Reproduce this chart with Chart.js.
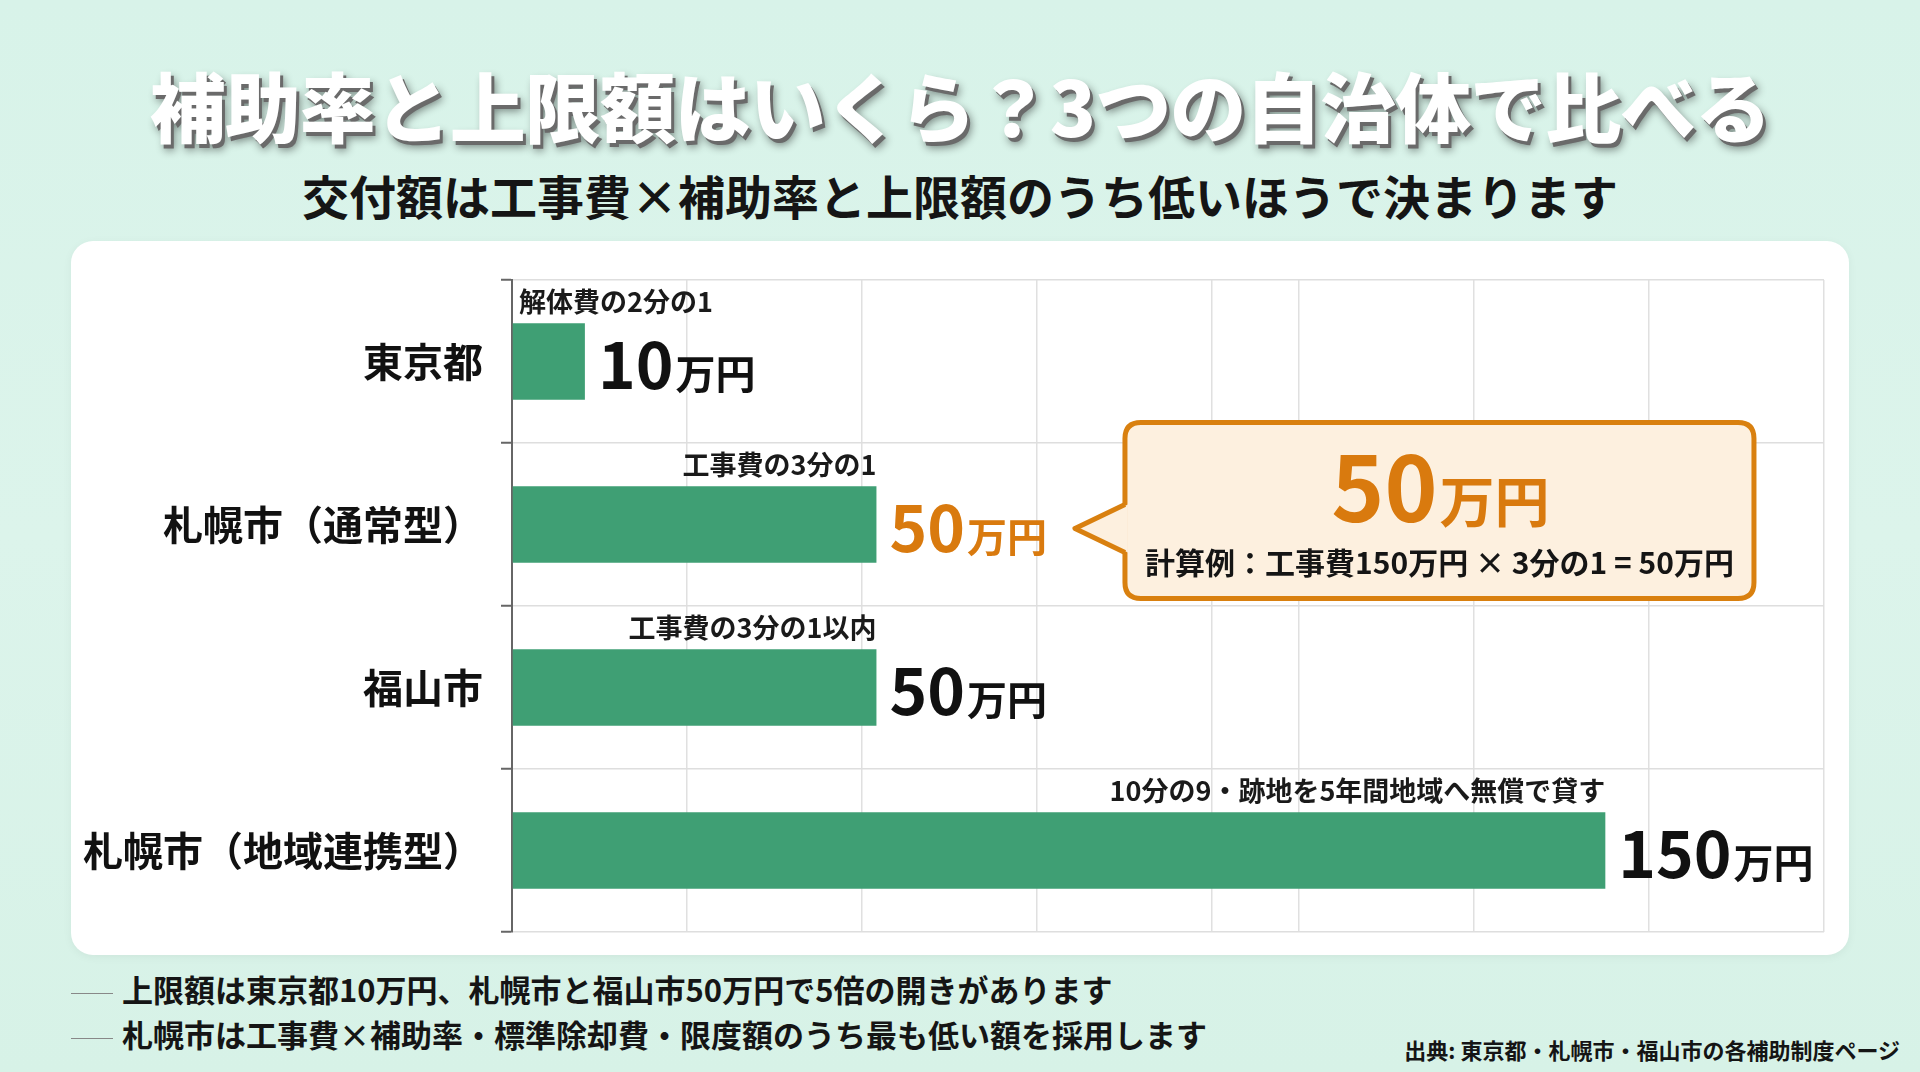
<!DOCTYPE html>
<html lang="ja">
<head>
  <meta charset="UTF-8">
  <title>補助率と上限額はいくら？3つの自治体で比べる</title>
  <script src="https://cdn.jsdelivr.net/npm/chart.js"></script>
  <style>
    html, body { margin: 0; padding: 0; }
    body {
      width: 1920px; height: 1072px; position: relative; overflow: hidden;
      background: linear-gradient(180deg, #d8f3e9 0%, #dcf4eb 50%, #d7f2e7 100%);
      font-family: "Noto Sans CJK JP", "Noto Sans", sans-serif;
      color: #111;
    }
    .title {
      position: absolute; left: 0; width: 1920px; top: 64px; height: 80px;
      text-align: center; font-size: 76px; line-height: 80px; font-weight: 900;
      color: #fff; letter-spacing: -1px;
      text-shadow: 3px 4px 0 #6a6a6a, 4px 6px 8px rgba(0,0,0,0.45);
    }
    .subtitle {
      position: absolute; left: 0; width: 1920px; top: 170px; height: 50px;
      text-align: center; font-size: 47px; line-height: 50px; font-weight: 700;
      color: #151515;
    }
    .card {
      position: absolute; left: 71px; top: 241px; width: 1778px; height: 714px;
      background: #fff; border-radius: 22px;
      box-shadow: 0 2px 10px rgba(0,0,0,0.05);
    }
    .card canvas { display: block; }
    .note {
      position: absolute; left: 71px; font-size: 31px; line-height: 36px; font-weight: 700;
      color: #151515; white-space: nowrap;
    }
    .note::before {
      content: ""; display: inline-block; width: 42px; height: 0;
      border-top: 1.5px solid #888; vertical-align: middle; margin-right: 9px;
    }
    .source {
      position: absolute; right: 20px; top: 1035px; font-size: 22px; line-height: 28px;
      font-weight: 700; color: #151515;
    }
  </style>
</head>
<body>

<div class="title">補助率と上限額はいくら？3つの自治体で比べる</div>
<div class="subtitle">交付額は工事費×補助率と上限額のうち低いほうで決まります</div>

<div class="card">
  <canvas id="chart" width="1778" height="714"></canvas>
</div>

<div class="note" style="top: 971px;">上限額は東京都10万円、札幌市と福山市50万円で5倍の開きがあります</div>
<div class="note" style="top: 1016px;">札幌市は工事費×補助率・標準除却費・限度額のうち最も低い額を採用します</div>
<div class="source">出典: 東京都・札幌市・福山市の各補助制度ページ</div>

<script>
// data (万円)
const categories = ['東京都', '札幌市（通常型）', '福山市', '札幌市（地域連携型）'];
const amounts = [10, 50, 50, 150];
const ruleNotes = ['解体費の2分の1', '工事費の3分の1', '工事費の3分の1以内', '10分の9・跡地を5年間地域へ無償で貸す'];
const gridTicks = [0, 24, 48, 72, 96, 108, 132, 156, 180];
const highlightIndex = 1;
const calloutAmount = 50;
const calloutText = '計算例：工事費150万円 × 3分の1 = 50万円';

const FONT = '"Noto Sans CJK JP", "Noto Sans", sans-serif';
const GREEN = '#3f9f74';
const ORANGE = '#d97a0e';

// number big + 万円 small, on one baseline
function drawAmount(ctx, value, x, baseline, numSize, unitSize, color, align) {
  const num = String(value), unit = '万円';
  ctx.font = `700 ${numSize}px ${FONT}`;
  const wn = ctx.measureText(num).width;
  ctx.font = `700 ${unitSize}px ${FONT}`;
  const wu = ctx.measureText(unit).width;
  let start = align === 'center' ? x - (wn + wu) / 2 : x;
  ctx.fillStyle = color;
  ctx.textAlign = 'left';
  ctx.textBaseline = 'alphabetic';
  ctx.font = `700 ${numSize}px ${FONT}`;
  ctx.fillText(num, start, baseline);
  ctx.font = `700 ${unitSize}px ${FONT}`;
  ctx.fillText(unit, start + wn + 2, baseline);
  return start + wn + 2 + wu;
}

function roundRect(ctx, x, y, w, h, r) {
  ctx.beginPath();
  ctx.moveTo(x + r, y);
  ctx.lineTo(x + w - r, y);
  ctx.quadraticCurveTo(x + w, y, x + w, y + r);
  ctx.lineTo(x + w, y + h - r);
  ctx.quadraticCurveTo(x + w, y + h, x + w - r, y + h);
  ctx.lineTo(x + r, y + h);
  ctx.quadraticCurveTo(x, y + h, x, y + h - r);
  ctx.lineTo(x, y + r);
  ctx.quadraticCurveTo(x, y, x + r, y);
  ctx.closePath();
}

const barLabels = {
  id: 'barLabels',
  afterDatasetsDraw(chart) {
    const { ctx, chartArea } = chart;
    const bars = chart.getDatasetMeta(0).data;
    ctx.save();
    bars.forEach((bar, i) => {
      const top = bar.y - bar.height / 2;
      // rule text above bar
      ctx.font = `700 27px ${FONT}`;
      ctx.fillStyle = '#1a1a1a';
      ctx.textBaseline = 'alphabetic';
      const w = ctx.measureText(ruleNotes[i]).width;
      if (w + 10 > bar.x - chartArea.left) {
        ctx.textAlign = 'left';
        ctx.fillText(ruleNotes[i], chartArea.left + 7, top - 11);
      } else {
        ctx.textAlign = 'right';
        ctx.fillText(ruleNotes[i], bar.x, top - 11);
      }
      // amount to the right of bar
      const color = i === highlightIndex ? ORANGE : '#111';
      const end = drawAmount(ctx, amounts[i], bar.x + 13, bar.y + 27, 64, 40, color, 'left');

      if (i === highlightIndex) {
        // callout bubble
        const tipX = end + 28, tipY = bar.y + 4;
        const bx = tipX + 50, bw = 629, bh = 176;
        const by = bar.y - 14 - bh / 2;
        ctx.lineWidth = 5;
        ctx.strokeStyle = '#d9800f';
        ctx.fillStyle = '#fdf0df';
        ctx.lineJoin = 'round';
        roundRect(ctx, bx, by, bw, bh, 16);
        ctx.fill();
        ctx.stroke();
        // pointer
        ctx.beginPath();
        ctx.moveTo(bx + 3, tipY - 24);
        ctx.lineTo(tipX, tipY);
        ctx.lineTo(bx + 3, tipY + 24);
        ctx.closePath();
        ctx.fill();
        ctx.beginPath();
        ctx.moveTo(bx, tipY - 24);
        ctx.lineTo(tipX, tipY);
        ctx.lineTo(bx, tipY + 24);
        ctx.stroke();
        // texts
        drawAmount(ctx, calloutAmount, bx + bw / 2, by + 99, 90, 55, ORANGE, 'center');
        ctx.font = `700 30px ${FONT}`;
        ctx.fillStyle = '#151515';
        ctx.textAlign = 'center';
        ctx.fillText(calloutText, bx + bw / 2, by + 151);
      }
    });
    ctx.restore();
  }
};

const chart = new Chart(document.getElementById('chart'), {
  type: 'bar',
  data: {
    labels: categories,
    datasets: [{
      data: amounts,
      backgroundColor: GREEN,
      barPercentage: 0.47,
      categoryPercentage: 1
    }]
  },
  options: {
    indexAxis: 'y',
    responsive: false,
    animation: false,
    layout: { padding: { top: 39, bottom: 23, right: 25, left: 0 } },
    plugins: { legend: { display: false }, tooltip: { enabled: false } },
    scales: {
      x: {
        min: 0,
        max: 180,
        afterBuildTicks: s => { s.ticks = gridTicks.map(v => ({ value: v })); },
        afterFit: s => { s.height = 0; s.paddingLeft = 0; s.paddingRight = 0; },
        ticks: { display: false },
        grid: { color: '#e0e0e0', lineWidth: 1.5, drawTicks: false },
        border: { display: false }
      },
      y: {
        afterFit: s => { s.width = 441; s.paddingTop = 0; s.paddingBottom = 0; },
        ticks: { color: '#111', font: { family: FONT, size: 40, weight: '700' }, padding: 18 },
        grid: {
          offset: true,
          color: c => c.index === categories.length ? 'rgba(0,0,0,0)' : '#dedede',
          lineWidth: 1.5,
          tickLength: 11,
          tickColor: '#666',
          tickWidth: 2
        },
        border: { color: '#666', width: 2 }
      }
    }
  },
  plugins: [barLabels]
});
</script>

</body>
</html>
